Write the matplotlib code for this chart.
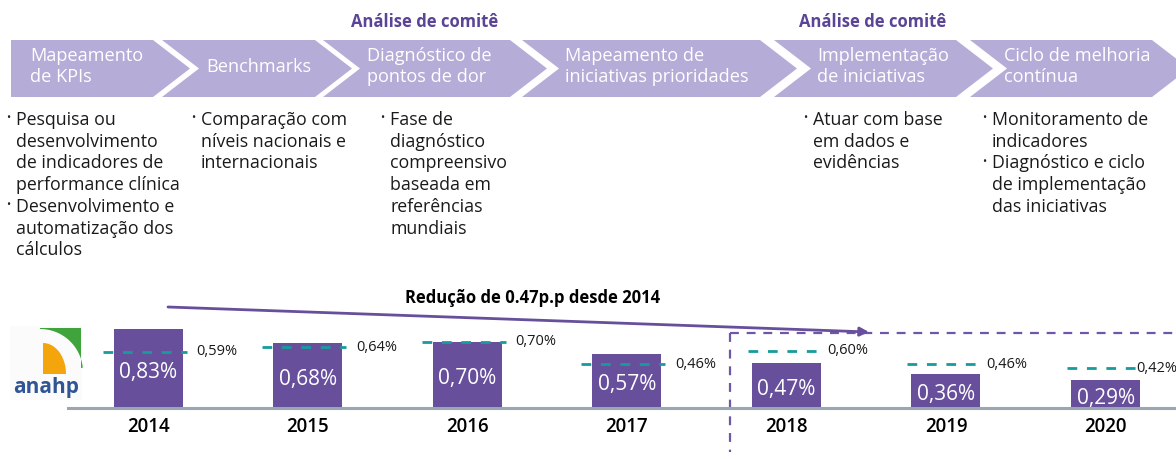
import numpy as np
import matplotlib
matplotlib.use("Agg")
import matplotlib.pyplot as plt
from matplotlib.patches import Polygon, Rectangle

plt.rcParams["font.family"] = ["Open Sans", "DejaVu Sans"]

# --- data ---
years = ["2014", "2015", "2016", "2017", "2018", "2019", "2020"]
rates = [0.83, 0.68, 0.70, 0.57, 0.47, 0.36, 0.29]
bench = [0.59, 0.64, 0.70, 0.46, 0.60, 0.46, 0.42]

steps = [
    ["Mapeamento", "de KPIs"],
    ["Benchmarks"],
    ["Diagnóstico de", "pontos de dor"],
    ["Mapeamento de", "iniciativas prioridades"],
    ["Implementação", "de iniciativas"],
    ["Ciclo de melhoria", "contínua"],
]
step_bullets = [
    [["Pesquisa ou", "desenvolvimento", "de indicadores de", "performance clínica"],
     ["Desenvolvimento e", "automatização dos", "cálculos"]],
    [["Comparação com", "níveis nacionais e", "internacionais"]],
    [["Fase de", "diagnóstico", "compreensivo", "baseada em", "referências", "mundiais"]],
    [],
    [["Atuar com base", "em dados e", "evidências"]],
    [["Monitoramento de", "indicadores"],
     ["Diagnóstico e ciclo", "de implementação", "das iniciativas"]],
]
committee_steps = [2, 4]
committee = "Análise de comitê"
headline = "Redução de 0.47p.p desde 2014"

PURPLE = "#674F9C"
LAVENDER = "#B5ADD7"
TEAL = "#169C9C"
HEAD = "#5B4496"
GRID = "#9AA6B2"

W, H = 1176, 459
fig = plt.figure(figsize=(W / 100, H / 100), dpi=100)

# pixel-space layer for the process chevrons, text and logo
deco = fig.add_axes([0, 0, 1, 1])
deco.set_xlim(0, W)
deco.set_ylim(H, 0)
deco.axis("off")

# chevrons
chev_left = [11, 162, 323, 522, 774, 970]
chev_right = [153, 315, 510, 760, 956, 1152]
text_x = [30, 206, 367, 565, 817, 1004]
bullet_x = [6, 191, 380, None, 803, 982]
top, bot, depth = 40, 97, 37
mid = (top + bot) / 2
for i, (l, r) in enumerate(zip(chev_left, chev_right)):
    pts = [(l, top), (r, top), (r + depth, mid), (r, bot), (l, bot)]
    if i > 0:
        pts.append((l + depth, mid))
    deco.add_patch(Polygon(pts, closed=True, fc=LAVENDER, ec="none"))
    lines = steps[i]
    if len(lines) == 1:
        deco.text(text_x[i], mid - 1, lines[0], color="white", fontsize=13.1,
                  ha="left", va="center")
    else:
        for k, s in enumerate(lines):
            deco.text(text_x[i], 56 + 21 * k, s, color="white", fontsize=13.1,
                      ha="left", va="center")

for i in committee_steps:
    c = (chev_left[i] + chev_right[i]) / 2 + 8
    deco.text(c, 22, committee, color=HEAD, fontsize=12, fontweight="bold",
              ha="center", va="center")

# bullet lists
for i, groups in enumerate(step_bullets):
    row = 0
    for g in groups:
        for k, s in enumerate(g):
            y = 120 + 21.7 * row
            if k == 0:
                deco.text(bullet_x[i], y - 1, "•", fontsize=8, color="#222222",
                          ha="left", va="center")
            deco.text(bullet_x[i] + 10, y, s, fontsize=12.8, color="#1A1A1A",
                      ha="left", va="center")
            row += 1

# logo
deco.add_patch(Rectangle((10, 326), 72, 74, fc="#FBFBFB", ec="none"))
t = np.linspace(-np.pi / 2, -0.1, 30)
arc = [(40 + 43 * np.cos(a), 372 + 43 * np.sin(a)) for a in t]
deco.add_patch(Polygon([(40, 328), (81, 328), (81, 368)] + arc[::-1],
                       closed=True, fc="#3FA43C", ec="none"))
t2 = np.linspace(-np.pi / 2, 0, 30)
wedge = [(43, 374)] + [(43 + 23 * np.cos(a), 374 + 31 * np.sin(a)) for a in t2]
deco.add_patch(Polygon(wedge, closed=True, fc="#F5A50C", ec="none"))
deco.text(46, 387, "anahp", color="#2F5597", fontsize=15, fontweight="bold",
          ha="center", va="center")

# headline arrow and projection frame
deco.annotate("", xy=(869, 332), xytext=(168, 307),
              arrowprops=dict(arrowstyle="-|>", color=PURPLE, lw=2,
                              mutation_scale=13, shrinkA=0, shrinkB=0))
deco.text(533, 298, headline, fontsize=12, fontweight="bold", color="black",
          ha="center", va="center")
deco.plot([730, W], [333, 333], color="#6F57A8", lw=1.6, ls=(0, (4, 3.5)))
deco.plot([730, 730], [333, 452], color="#6F57A8", lw=1.6, ls=(0, (4, 3.5)))

# --- bar chart ---
base_px, px_per_pct = 408, 95.0
x0_px, step_px = 148, 159.6
ax = fig.add_axes([0, 1 - base_px / H, 1, base_px / H])
ax.set_xlim(-x0_px / step_px, (W - x0_px) / step_px)
ax.set_ylim(0, base_px / px_per_pct)
ax.axis("off")
ax.patch.set_alpha(0)

x = np.arange(len(years))
half = 34.5 / step_px
x_max = (W - 40 - x0_px) / step_px
ax.bar(x, rates, width=2 * half, color=PURPLE, zorder=2)
ax.plot([(68 - x0_px) / step_px, (W - x0_px) / step_px], [0, 0], color=GRID,
        lw=2.2, clip_on=False, zorder=3)

for xi, v, b, yr in zip(x, rates, bench, years):
    ax.text(xi, v / 2 - 0.04, f"{v:.2f}%".replace(".", ","), color="white",
            fontsize=15, ha="center", va="center", zorder=4)
    ax.text(xi, -19 / px_per_pct, yr, fontsize=13.4, fontweight="semibold",
            ha="center", va="center", color="black")
    if xi < 4:
        l, r = xi - half - 11 / step_px, xi + half + 4 / step_px
    else:
        l, r = xi - half - 4 / step_px, xi + half - 4 / step_px
    ax.plot([l, r], [b, b], color=TEAL, lw=2, ls=(0, (3.5, 3.5)), zorder=3)
    ax.text(min(r + 10 / step_px, x_max), b, f"{b:.2f}%".replace(".", ","),
            fontsize=10.5, ha="left", va="center", color="#1A1A1A")

fig.savefig("out.png", dpi=100)
